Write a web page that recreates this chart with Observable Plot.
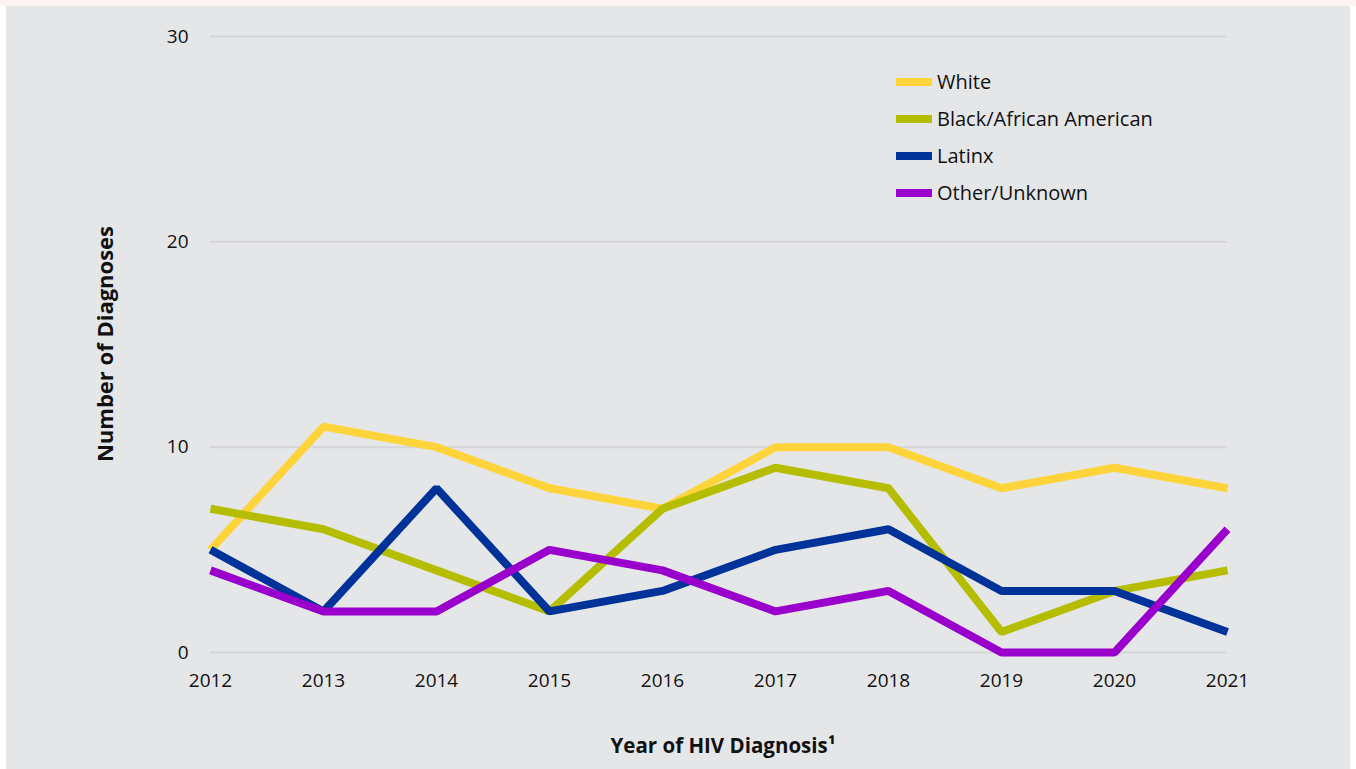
<!DOCTYPE html>
<html>
<head>
<meta charset="utf-8">
<script src="https://cdn.jsdelivr.net/npm/d3@7"></script>
<script src="https://cdn.jsdelivr.net/npm/@observablehq/plot@0.6"></script>
<style>
  html, body { margin: 0; padding: 0; background: #ffffff; }
  #strip { position: absolute; left: 0; top: 0; width: 1356px; height: 6px; background: #fdf3f2; }
  #wrap { position: absolute; left: 6px; top: 6px; width: 1344px; height: 763px; background: #e5e6e8; font-family: "Open Sans", sans-serif; }
  #legend { position: absolute; left: 890px; top: 57px; font-size: 20px; color: #111; }
  .item { display: flex; align-items: center; height: 37px; }
  .sw { width: 36px; height: 8px; margin-right: 5px; }
  #xtitle { position: absolute; left: 0; width: 1434px; text-align: center; top: 725px; font-weight: bold; font-size: 20.5px; color: #111; }
  #ytitle { position: absolute; left: 98px; top: 338px; transform: translate(-50%, -50%) rotate(-90deg); white-space: nowrap; font-weight: bold; font-size: 22px; color: #111; }
</style>
</head>
<body>
<div id="strip"></div>
<div id="wrap">
  <div id="chart"></div>
  <div id="legend"></div>
  <div id="xtitle">Year of HIV Diagnosis¹</div>
  <div id="ytitle">Number of Diagnoses</div>
</div>
<script>
const years = [2012, 2013, 2014, 2015, 2016, 2017, 2018, 2019, 2020, 2021];
const seriesNames = ["White", "Black/African American", "Latinx", "Other/Unknown"];
const seriesColors = ["#ffd43b", "#b5bd00", "#003399", "#9900cc"];
const white = [5, 11, 10, 8, 7, 10, 10, 8, 9, 8];
const black = [7, 6, 4, 2, 7, 9, 8, 1, 3, 4];
const latinx = [5, 2, 8, 2, 3, 5, 6, 3, 3, 1];
const other = [4, 2, 2, 5, 4, 2, 3, 0, 0, 6];
const yTicks = [0, 10, 20, 30];

const allValues = [white, black, latinx, other];
const data = [];
allValues.forEach((vals, si) => {
  vals.forEach((v, i) => data.push({ year: years[i], value: v, series: seriesNames[si] }));
});

const chart = Plot.plot({
  width: 1344,
  height: 763,
  marginLeft: 204,
  marginRight: 123,
  marginTop: 30,
  marginBottom: 117,
  style: { background: "transparent", fontFamily: "Open Sans, sans-serif", fontSize: "19px", color: "#111" },
  x: { domain: [2012, 2021], ticks: years, tickFormat: d => String(d), label: null, tickSize: 0, tickPadding: 20 },
  y: { domain: [0, 30], ticks: yTicks, label: null, tickSize: 0, tickPadding: 22 },
  color: { domain: seriesNames, range: seriesColors },
  marks: [
    Plot.gridY(yTicks, { stroke: "#d4d5d7", strokeOpacity: 1, strokeWidth: 2 }),
    Plot.axisX({ ticks: years, tickFormat: d => String(d), tickSize: 0, tickPadding: 21, label: null, fontSize: 19 }),
    Plot.axisY({ ticks: yTicks, tickSize: 0, tickPadding: 22, label: null, fontSize: 19 }),
    Plot.line(data, { x: "year", y: "value", z: "series", stroke: "series", strokeWidth: 8, strokeLinejoin: "miter", strokeLinecap: "butt" })
  ]
});
document.getElementById("chart").appendChild(chart);

const legend = document.getElementById("legend");
seriesNames.forEach((n, i) => {
  const item = document.createElement("div");
  item.className = "item";
  const sw = document.createElement("div");
  sw.className = "sw";
  sw.style.background = seriesColors[i];
  const t = document.createElement("span");
  t.textContent = n;
  item.appendChild(sw);
  item.appendChild(t);
  legend.appendChild(item);
});
</script>
</body>
</html>
